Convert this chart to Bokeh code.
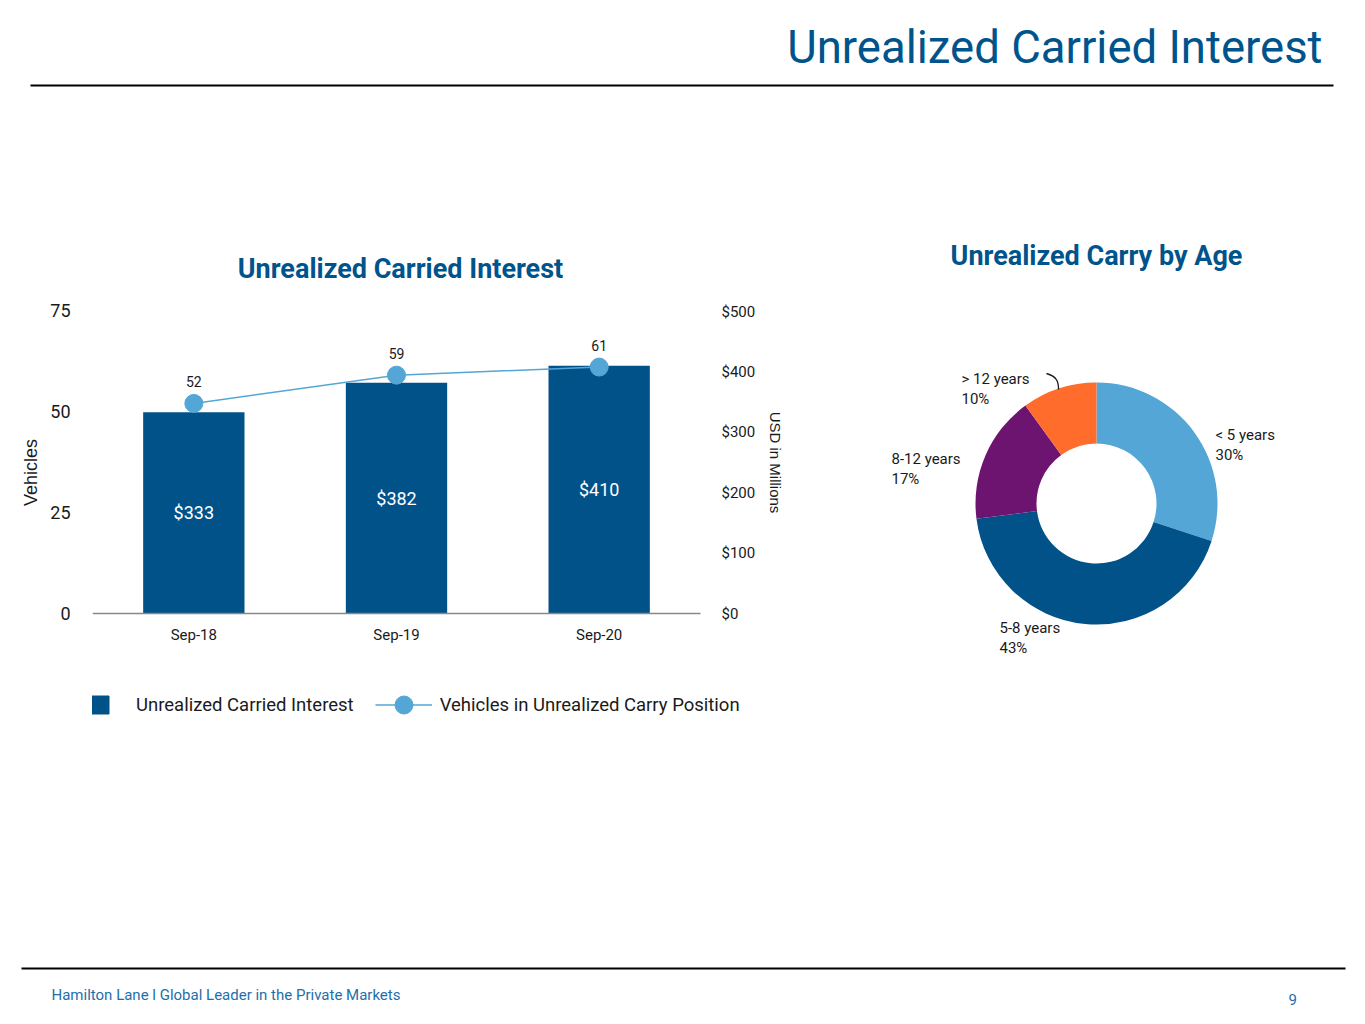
import math
from bokeh.plotting import figure
from bokeh.models import (Range1d, LinearAxis, FixedTicker, Legend, LegendItem,
                          NumeralTickFormatter)
from bokeh.layouts import column, row
from bokeh.embed import file_html
from bokeh.resources import INLINE
from bokeh.core.properties import value

# ---------------- data ----------------
periods = ["Sep-18", "Sep-19", "Sep-20"]
carry_usd = [333, 382, 410]          # USD in millions
vehicles = [52, 59, 61]              # vehicles in unrealized carry position
vehicle_ticks = [0, 25, 50, 75]
usd_ticks = [0, 100, 200, 300, 400, 500]

age_buckets = ["< 5 years", "5-8 years", "8-12 years", "> 12 years"]
age_share = [30, 43, 17, 10]         # percent

# ---------------- styles ----------------
TITLE = "#00548B"
DARK = "#02528A"
LIGHT = "#53A6D6"
PURPLE = "#6D1470"
ORANGE = "#FF6C2C"
age_colors = [LIGHT, DARK, PURPLE, ORANGE]
FONT = value("Roboto")
INK = "#1A1A1A"

# layout (page pixels)
ROW_TOP, ROW_BOT = 222, 722          # middle row extent
AX_ZERO = 613                        # where 0 sits
VEH_TOP, USD_TOP = 310, 311          # where 75 / $500 sit
FRAME_L, PLOT_R, FIG_W = 92, 700, 792
VEH_MAX, USD_MAX = vehicle_ticks[-1], usd_ticks[-1]

xs = list(range(len(periods)))


def span(vmax, top):
    k = vmax / (AX_ZERO - top)
    return Range1d(-(ROW_BOT - AX_ZERO) * k, vmax + (top - ROW_TOP) * k)


def veh_at(px):
    return (AX_ZERO - px) * VEH_MAX / (AX_ZERO - VEH_TOP)


def blank(width, height, xr, yr):
    f = figure(width=width, height=height, x_range=xr, y_range=yr, title=None,
               toolbar_location=None, output_backend="svg",
               x_axis_location=None, y_axis_location=None, min_border=0)
    f.grid.visible = False
    f.outline_line_color = None
    return f


# ---------------- header ----------------
hdr = blank(1349, ROW_TOP, Range1d(0, 1349), Range1d(ROW_TOP, 0))
hdr.text(x=[1322], y=[47], text=["Unrealized Carried Interest"], text_align="right",
         text_baseline="middle", text_font=FONT, text_font_size="45.5px",
         text_color=TITLE)
hdr.segment(x0=[30], y0=[85], x1=[1333], y1=[85], line_color="black", line_width=2)

# ---------------- bar + line chart ----------------
px_per_cat = (PLOT_R - FRAME_L) / len(periods)
x_end = -0.5 + (FIG_W - FRAME_L) / px_per_cat
bar = figure(width=FIG_W, height=ROW_BOT - ROW_TOP, x_range=Range1d(-0.5, x_end),
             y_range=span(VEH_MAX, VEH_TOP), title=None,
             toolbar_location=None, output_backend="svg",
             min_border_left=FRAME_L, min_border_right=0, min_border_top=0,
             min_border_bottom=0)
bar.extra_y_ranges = {"usd": span(USD_MAX, USD_TOP)}
bar.grid.visible = False
bar.outline_line_color = None

ya = bar.yaxis[0]
ya.ticker = FixedTicker(ticks=vehicle_ticks)
ya.bounds = (0, VEH_MAX)
ya.axis_line_color = None
ya.major_tick_line_color = None
ya.minor_tick_line_color = None
ya.major_label_standoff = 16
ya.major_label_text_font = "Roboto"
ya.major_label_text_font_size = "18px"
ya.major_label_text_color = INK
ya.axis_label = "Vehicles"
ya.axis_label_text_font = "Liberation Sans"
ya.axis_label_text_font_size = "18px"
ya.axis_label_text_font_style = "normal"
ya.axis_label_text_color = INK
ya.axis_label_standoff = 6

ra = LinearAxis(y_range_name="usd", ticker=FixedTicker(ticks=usd_ticks),
                formatter=NumeralTickFormatter(format="$0"), bounds=(0, USD_MAX),
                fixed_location=len(periods) - 0.5)
ra.axis_line_color = None
ra.major_tick_line_color = None
ra.minor_tick_line_color = None
ra.major_label_standoff = 15
ra.major_label_text_font = "Roboto"
ra.major_label_text_font_size = "15px"
ra.major_label_text_color = INK
ra.axis_label = "USD in Millions"
ra.axis_label_text_font = "Liberation Sans"
ra.axis_label_text_font_size = "15px"
ra.axis_label_text_font_style = "normal"
ra.axis_label_text_color = INK
ra.axis_label_standoff = 9
bar.add_layout(ra, "right")

xa = bar.xaxis[0]
xa.ticker = FixedTicker(ticks=xs)
xa.major_label_overrides = {i: p for i, p in zip(xs, periods)}
xa.bounds = (-0.5, len(periods) - 0.5)
xa.fixed_location = 0
xa.axis_line_color = "#888888"
xa.axis_line_width = 1.5
xa.major_tick_line_color = None
xa.minor_tick_line_color = None
xa.major_label_standoff = 6
xa.major_label_text_font = "Roboto"
xa.major_label_text_font_size = "15px"
xa.major_label_text_color = INK

bar.text(x=[xs[1]], y=[veh_at(268)], x_offset=4, text=["Unrealized Carried Interest"],
         text_align="center", text_baseline="middle", text_font=FONT,
         text_font_size="27px", text_font_style="bold", text_color=TITLE)

bars = bar.vbar(x=xs, top=carry_usd, width=0.5, y_range_name="usd",
                fill_color=DARK, line_color=None)
bar.text(x=xs, y=[v / 2 for v in carry_usd], text=[f"${v}" for v in carry_usd],
         y_range_name="usd", text_align="center", text_baseline="middle",
         text_font=FONT, text_font_size="18px", text_color="white")

ln = bar.line(x=xs, y=vehicles, line_color=LIGHT, line_width=1.5)
pts = bar.scatter(x=xs, y=vehicles, size=18, fill_color=LIGHT, line_color=LIGHT)
bar.text(x=xs, y=vehicles, text=[str(v) for v in vehicles], y_offset=-22,
         text_align="center", text_baseline="middle", text_font=FONT,
         text_font_size="14px", text_color=INK)

nan = float("nan")
sq = bar.scatter(x=[nan], y=[nan], marker="square", size=18, fill_color=DARK,
                 line_color=DARK)
legend = Legend(items=[LegendItem(label="Unrealized Carried Interest", renderers=[sq]),
                       LegendItem(label="Vehicles in Unrealized Carry Position",
                                  renderers=[ln, pts])],
                orientation="horizontal", location=(-21, -5), glyph_width=57,
                glyph_height=45, label_height=20, label_standoff=8, spacing=21,
                padding=0, margin=0, border_line_color=None, background_fill_alpha=0,
                label_text_font="Roboto", label_text_font_size="18.5px",
                label_text_color=INK)
bar.add_layout(legend)

# ---------------- donut ----------------
pie = blank(1349 - FIG_W, ROW_BOT - ROW_TOP, Range1d(FIG_W, 1349),
            Range1d(-ROW_BOT, -ROW_TOP))
cx, cy = 1096, -503
total = sum(age_share)
starts, ends, acc = [], [], 0
for s in age_share:
    starts.append(math.pi / 2 - 2 * math.pi * acc / total)
    acc += s
    ends.append(math.pi / 2 - 2 * math.pi * acc / total)
pie.annular_wedge(x=cx, y=cy, inner_radius=60, outer_radius=121,
                  start_angle=starts, end_angle=ends, direction="clock",
                  fill_color=age_colors, line_color=None)

pie.text(x=[cx], y=[-255], text=["Unrealized Carry by Age"], text_align="center",
         text_baseline="middle", text_font=FONT, text_font_size="27px",
         text_font_style="bold", text_color=TITLE)

# label placement (pixels relative to donut centre)
lab_dx = [119, -97, -205, -135]
lab_dy = [-69, 124, -45, -125]
lx = [cx + d for d in lab_dx]
ly1 = [cy - d for d in lab_dy]
ly2 = [y - 20 for y in ly1]
pie.text(x=lx, y=ly1, text=age_buckets, text_align="left", text_baseline="middle",
         text_font=FONT, text_font_size="15px", text_color=INK)
pie.text(x=lx, y=ly2, text=[f"{s}%" for s in age_share], text_align="left",
         text_baseline="middle", text_font=FONT, text_font_size="15px",
         text_color=INK)
pie.bezier(x0=[1046], y0=[-373], x1=[1058], y1=[-389], cx0=[1057], cy0=[-376],
           cx1=[1058], cy1=[-382], line_color=INK, line_width=1.3)

# ---------------- footer ----------------
ftr = blank(1349, 1008 - ROW_BOT, Range1d(0, 1349), Range1d(1008, ROW_BOT))
ftr.segment(x0=[21], y0=[968], x1=[1345], y1=[968], line_color="black", line_width=2)
ftr.text(x=[51], y=[994], text=["Hamilton Lane l Global Leader in the Private Markets"],
         text_align="left", text_baseline="middle", text_font=FONT,
         text_font_size="15px", text_color="#1E6FAB")
ftr.text(x=[1288], y=[999], text=["9"], text_align="left", text_baseline="middle",
         text_font=FONT, text_font_size="15px", text_color="#1E6FAB")

layout = column(hdr, row(bar, pie), ftr)
open("out.html", "w").write(file_html(layout, INLINE))
